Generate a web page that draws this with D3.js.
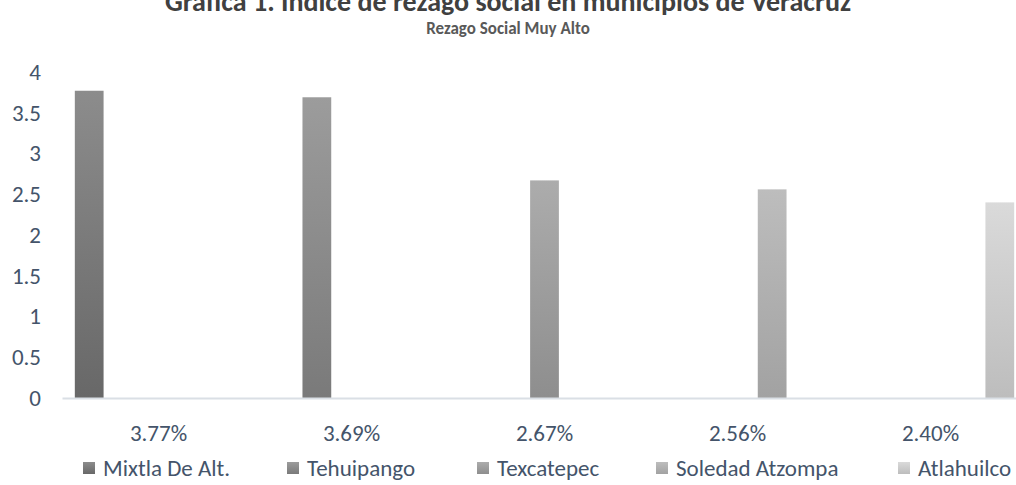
<!DOCTYPE html>
<html>
<head>
<meta charset="utf-8">
<script src="https://cdn.jsdelivr.net/npm/d3@7"></script>
<style>
  body { margin: 0; background: #fff; }
  svg { display: block; font-family: Carlito, Lato, sans-serif; }
</style>
</head>
<body>
<div id="chart"></div>
<script>
const w = 1016;
const h = 485;
const textColor = '#44546a';

// data
const categories = ['3.77%', '3.69%', '2.67%', '2.56%', '2.40%'];
const seriesNames = ['Mixtla De Alt.', 'Tehuipango', 'Texcatepec', 'Soledad Atzompa', 'Atlahuilco'];
// one value per series, each in its own category
const seriesValues = [3.77, 3.69, 2.67, 2.56, 2.40];
const yTicks = [0, 0.5, 1, 1.5, 2, 2.5, 3, 3.5, 4];

// gradient colours (top, bottom) for each series
const gradTop = ['#8c8c8c', '#9c9c9c', '#acacac', '#bdbdbd', '#dadada'];
const gradBottom = ['#686868', '#7a7a7a', '#8e8e8e', '#a2a2a2', '#bdbdbd'];
// legend swatch left edges
const legendX = [83, 287, 477, 656, 898];

const svg = d3.select('#chart').append('svg')
  .attr('width', w)
  .attr('height', h);

const defs = svg.append('defs');
seriesNames.forEach((s, i) => {
  const g = defs.append('linearGradient')
    .attr('id', 'grad' + i)
    .attr('x1', 0).attr('y1', 0).attr('x2', 0).attr('y2', 1);
  g.append('stop').attr('offset', '0%').attr('stop-color', gradTop[i]);
  g.append('stop').attr('offset', '100%').attr('stop-color', gradBottom[i]);
});

const plotLeft = 62, plotRight = 1027, plotBottom = 398, plotTop = 72;

const x0 = d3.scaleBand().domain(categories).range([plotLeft, plotRight]).padding(0);
const x1 = d3.scaleBand().domain(seriesNames).range([0, x0.bandwidth()])
  .paddingInner(0.17).paddingOuter(0.37);
const y = d3.scaleLinear().domain([0, 4]).range([plotBottom, plotTop]);

// title (top is clipped by the frame, as in the original)
svg.append('text')
  .attr('x', w / 2).attr('y', 11)
  .attr('text-anchor', 'middle')
  .attr('font-size', 28).attr('font-weight', 'bold')
  .attr('fill', '#404040')
  .text('Gráfica 1. Índice de rezago social en municipios de Veracruz');

svg.append('text')
  .attr('x', w / 2).attr('y', 34)
  .attr('text-anchor', 'middle')
  .attr('font-size', 17).attr('font-weight', 'bold')
  .attr('fill', '#595959')
  .text('Rezago Social Muy Alto');

// y axis labels
const yAxis = d3.axisLeft(y).tickValues(yTicks).tickFormat(d3.format('')).tickSize(0).tickPadding(0);
const gy = svg.append('g')
  .attr('transform', 'translate(41,0)')
  .call(yAxis);
gy.select('.domain').remove();
gy.selectAll('text')
  .attr('font-size', 23)
  .attr('font-family', 'Carlito, Lato, sans-serif')
  .attr('fill', textColor);

// bars
seriesNames.forEach((s, i) => {
  svg.append('rect')
    .attr('x', x0(categories[i]) + x1(s))
    .attr('y', y(seriesValues[i]))
    .attr('width', x1.bandwidth())
    .attr('height', plotBottom - y(seriesValues[i]))
    .attr('fill', 'url(#grad' + i + ')');
});

// x axis
const xAxis = d3.axisBottom(x0).tickSize(0).tickPadding(0);
const gx = svg.append('g')
  .attr('transform', 'translate(0,' + plotBottom + ')')
  .call(xAxis);
gx.select('.domain')
  .attr('stroke', '#dadfe5')
  .attr('stroke-width', 2);
gx.selectAll('text')
  .attr('dy', 0)
  .attr('y', 43)
  .attr('font-size', 23)
  .attr('font-family', 'Carlito, Lato, sans-serif')
  .attr('fill', textColor);

// legend
const lg = svg.append('g');
seriesNames.forEach((s, i) => {
  lg.append('rect')
    .attr('x', legendX[i]).attr('y', 462)
    .attr('width', 12).attr('height', 12)
    .attr('fill', 'url(#grad' + i + ')');
  lg.append('text')
    .attr('x', legendX[i] + 20).attr('y', 476)
    .attr('font-size', 23)
    .attr('fill', textColor)
    .text(s);
});
</script>
</body>
</html>
